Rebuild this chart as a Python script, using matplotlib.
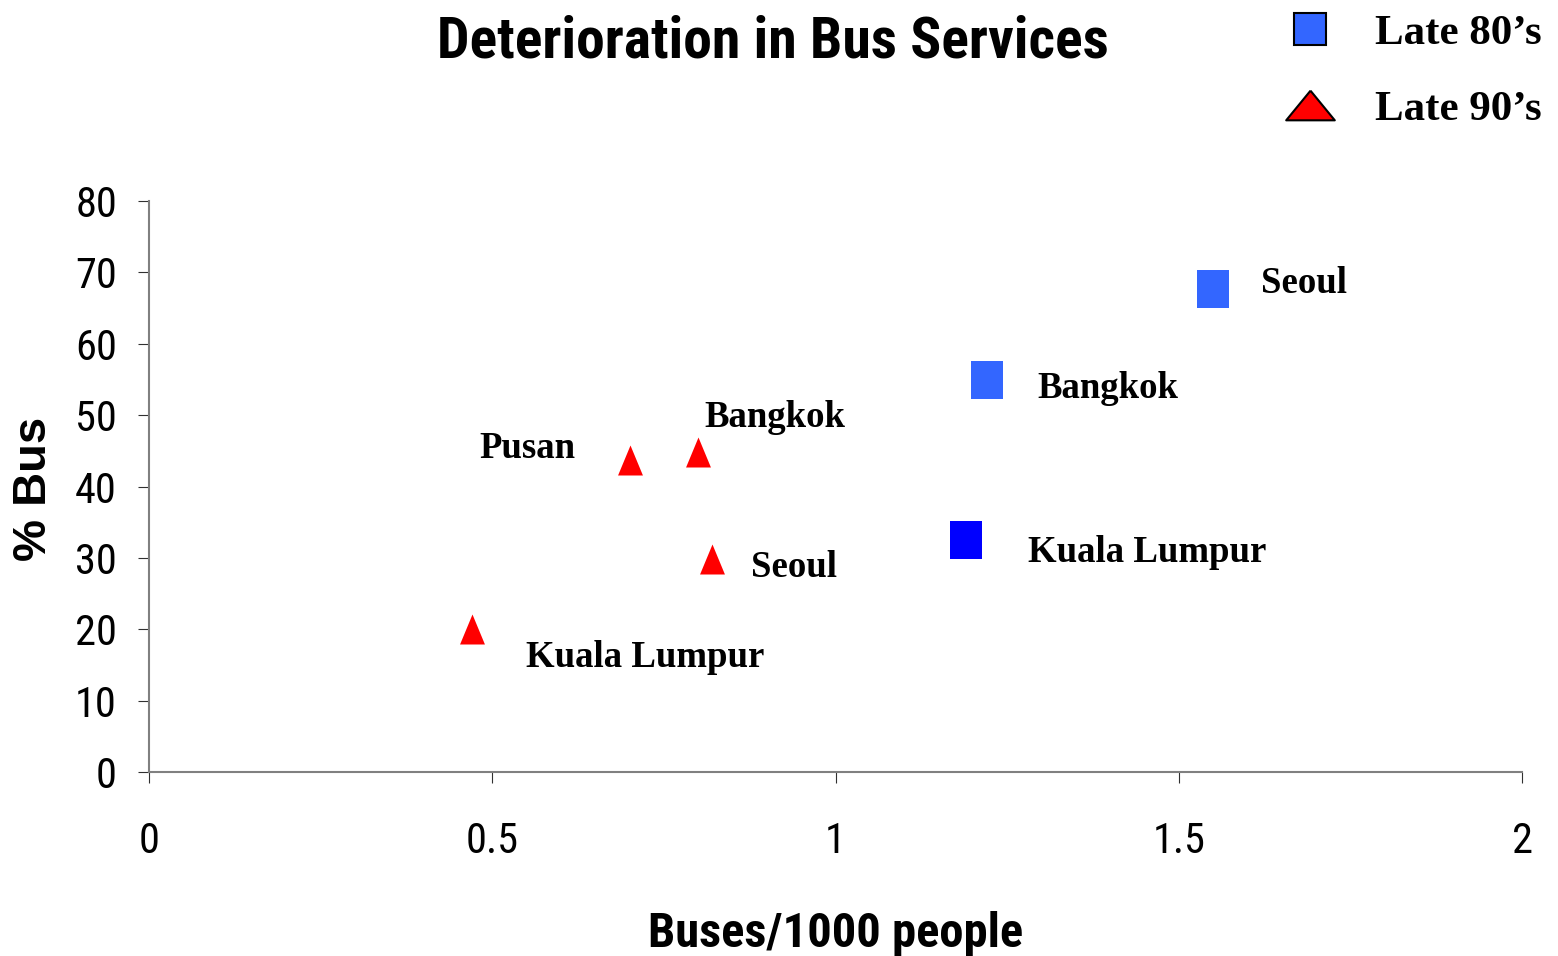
import matplotlib
matplotlib.use('Agg')
import matplotlib.pyplot as plt
from matplotlib.lines import Line2D

# Data
cities_80s = ['Seoul', 'Bangkok', 'Kuala Lumpur']
buses_80s = [1.55, 1.22, 1.19]
share_80s = [67.7, 54.9, 32.5]

cities_90s = ['Pusan', 'Bangkok', 'Seoul', 'Kuala Lumpur']
buses_90s = [0.70, 0.80, 0.82, 0.47]
share_90s = [43.7, 44.9, 29.8, 20.1]

x_ticks = [0, 0.5, 1, 1.5, 2]
x_tick_labels = ['0', '0.5', '1', '1.5', '2']
y_ticks = [0, 10, 20, 30, 40, 50, 60, 70, 80]

# label placement (pixel offsets from the marker)
offsets_80s = [(48, -4), (51, -18), (62, -22)]
offsets_90s = [(-150, 2), (6, 24.5), (39, -17.5), (54, -38.5)]
colors_80s = ['#3366FF', '#3366FF', '#0000FF']

narrow = ['Roboto Condensed', 'Liberation Sans']
serif = ['Liberation Serif', 'DejaVu Serif']

square = [(-0.84, -1), (0.84, -1), (0.84, 1), (-0.84, 1), (-0.84, -1)]
tri = [(0, 1), (-0.83, -1), (0.83, -1), (0, 1)]
tri_leg = [(0, 0.61), (-1, -0.61), (1, -0.61), (0, 0.61)]

fig = plt.figure(figsize=(15.58, 9.56), dpi=100)
ax = fig.add_axes([149 / 1558, 1 - 772 / 956, 1373 / 1558, 571 / 956])

# Late 80's squares
for x, y, c in zip(buses_80s, share_80s, colors_80s):
    ax.plot(x, y, linestyle='none', marker=square, markersize=28,
            color=c, markeredgewidth=0)
# Late 90's triangles
ax.plot(buses_90s, share_90s, linestyle='none', marker=tri, markersize=21.6,
        color='#FF0000', markeredgewidth=0)

for name, x, y, off in zip(cities_80s, buses_80s, share_80s, offsets_80s):
    ax.annotate(name, (x, y), xytext=off, textcoords='offset pixels',
                ha='left', va='baseline', fontsize=26.5, fontweight='bold',
                family=serif)
for name, x, y, off in zip(cities_90s, buses_90s, share_90s, offsets_90s):
    ax.annotate(name, (x, y), xytext=off, textcoords='offset pixels',
                ha='left', va='baseline', fontsize=26.5, fontweight='bold',
                family=serif)

ax.set_xlim(0, 2)
ax.set_ylim(0, 80)
ax.set_xticks(x_ticks)
ax.set_xticklabels(x_tick_labels)
ax.set_yticks(y_ticks)

for s in ['top', 'right']:
    ax.spines[s].set_visible(False)
for s in ['left', 'bottom']:
    ax.spines[s].set_color('#808080')
    ax.spines[s].set_linewidth(1.5)

ax.tick_params(axis='both', direction='out', length=8, width=0.8,
               color='#303030', labelsize=30.5)
ax.tick_params(axis='x', pad=27)
ax.tick_params(axis='y', pad=15)
for lab in ax.get_xticklabels() + ax.get_yticklabels():
    lab.set_family(narrow)

ax.set_xlabel('Buses/1000 people', fontsize=35, fontweight='bold', family=narrow)
ax.xaxis.set_label_coords(0.5, -0.3065)
ax.xaxis.label.set_va('baseline')
ax.set_ylabel('% Bus', fontsize=34, fontweight='bold', family=['Liberation Sans', 'DejaVu Sans'])
ax.yaxis.set_label_coords(-0.084, 0.496)
ax.yaxis.label.set_va('center')

fig.text(773 / 1558, 1 - 57 / 956, 'Deterioration in Bus Services',
         ha='center', va='baseline', fontsize=41.5, fontweight='bold', family=narrow)

handles = [
    Line2D([], [], linestyle='none', marker='s', markersize=23,
           markerfacecolor='#3366FF', markeredgecolor='black', markeredgewidth=1.5),
    Line2D([], [], linestyle='none', marker=tri_leg, markersize=35,
           markerfacecolor='#FF0000', markeredgecolor='black', markeredgewidth=1.5),
]
fig.legend(handles, ["Late 80\u2019s", "Late 90\u2019s"], loc='upper left',
           bbox_to_anchor=(1280 / 1558, 1 - 14 / 956), frameon=False,
           borderpad=0, borderaxespad=0, handlelength=1.4, handletextpad=0.8,
           labelspacing=0.85, prop={'family': serif, 'weight': 'bold', 'size': 31})

fig.savefig('out.png', dpi=100)
